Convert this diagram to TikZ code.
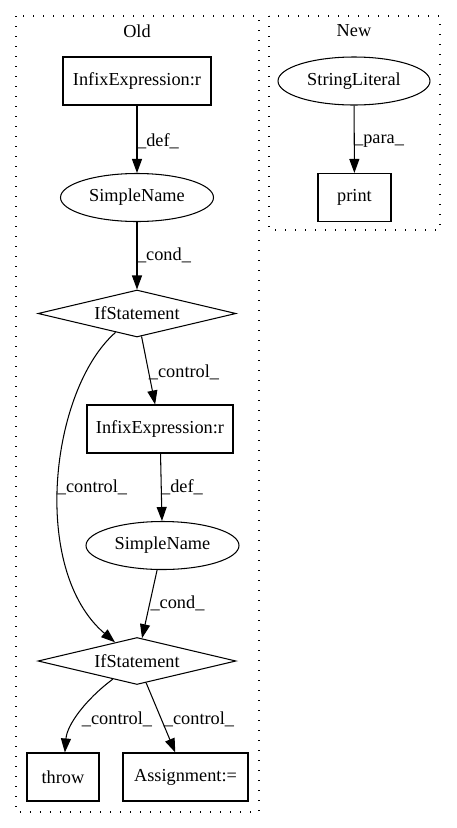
\documentclass[tikz,border=0pt]{standalone}
\usepackage{fontspec}
\setmainfont{Liberation Serif}
\usetikzlibrary{shapes.geometric,arrows.meta}
\begin{document}
\begin{tikzpicture}[x=1pt,y=-1pt,
  every node/.style={font=\fontsize{18.3}{22}\selectfont, inner sep=0pt},
  box/.style={draw, line width=1.05pt, rectangle, minimum width=#1, minimum height=48pt},
  ell/.style={draw, line width=1.05pt, ellipse, minimum width=153pt, minimum height=48pt},
  dia/.style={draw, line width=1.05pt, diamond, aspect=4, minimum width=198pt, minimum height=47pt},
  conn/.style={draw, line width=1.05pt, -{Triangle[length=14pt,width=10pt]}},
  cluster/.style={draw, line width=1.2pt, dash pattern=on 1.4pt off 8.6pt}]
\useasboundingbox (0,0) rectangle (456,828);
% clusters
\draw[cluster] (16,16) rectangle (259,812);
\draw[cluster] (269,16) rectangle (440,230);
\node (oldlbl) at (137,31) {Old};
\node (newlbl) at (354,31) {New};
% nodes
\node[box=148pt] (infA) at (137,81) {InfixExpression:r};
\node[ell] (snA) at (137,197.5) {SimpleName};
\node[dia] (ifA) at (137,313.5) {IfStatement};
\node[box=146pt] (infB) at (160,429) {InfixExpression:r};
\node[ell] (snB) at (162.5,545.5) {SimpleName};
\node[dia] (ifB) at (137,661) {IfStatement};
\node[box=72pt] (throw) at (63,777) {throw};
\node[box=125pt] (assign) at (185.5,777) {Assignment:=};
\node[ell, minimum width=152pt] (strlit) at (354,81) {StringLiteral};
\node[box=73pt] (print) at (354.5,197.5) {print};
% edges
\draw[conn] (infA) -- (snA);
\draw[conn] (snA) -- (ifA);
\draw[conn] (ifA) -- (infB);
\draw[conn] (ifA) .. controls (50,390) and (30,570) .. (ifB);
\draw[conn] (infB) -- (snB);
\draw[conn] (snB) -- (ifB);
\draw[conn] (ifB) .. controls (85,700) and (67,725) .. (throw);
\draw[conn] (ifB) -- (assign);
\draw[conn] (strlit) -- (print);
% edge labels
\node (l1) at (158,141) {\_def\_};
\node (l2) at (379,141) {\_para\_};
\node (l3) at (164,255) {\_cond\_};
\node (l4) at (184,372) {\_control\_};
\node (l5) at (92,487) {\_control\_};
\node (l6) at (182,487) {\_def\_};
\node (l7) at (177.5,603) {\_cond\_};
\node (l8) at (117,719) {\_control\_};
\node (l9) at (199,719) {\_control\_};
\end{tikzpicture}
\end{document}
